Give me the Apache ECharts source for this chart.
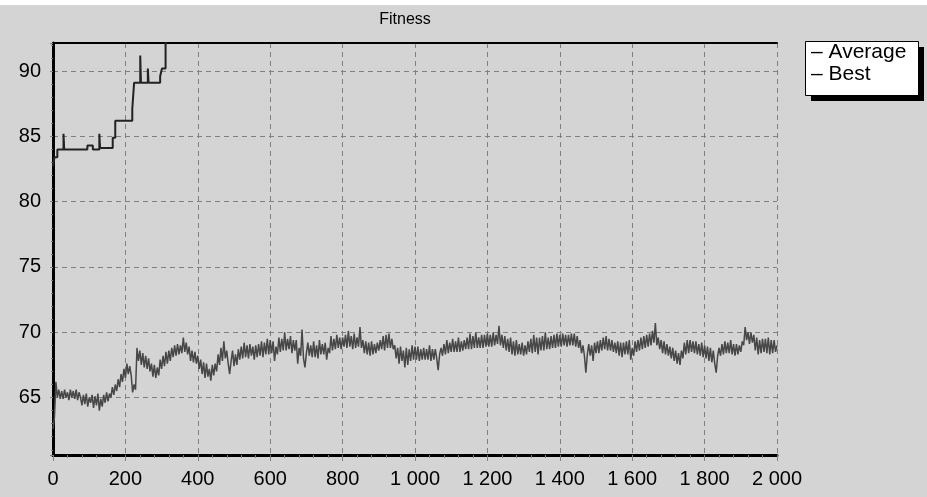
<!DOCTYPE html>
<html>
<head>
<meta charset="utf-8">
<script src="https://cdn.jsdelivr.net/npm/echarts@6/dist/echarts.min.js"></script>
<style>
html,body{margin:0;padding:0;background:#d4d4d4;}
#chart{width:927px;height:497px;}
</style>
</head>
<body>
<div id="chart"></div>
<script>
// ---- data ----
const chartTitle = 'Fitness';
const seriesNames = ['Average', 'Best'];
const xTicks = [0, 200, 400, 600, 800, 1000, 1200, 1400, 1600, 1800, 2000];
const yTicks = [65, 70, 75, 80, 85, 90];

const avgStep = 4;
const avgValues = [
  62.6, 63.5, 66.2, 65.0, 65.6, 64.9, 65.5, 64.9, 65.6, 65.0, 65.4, 64.8, 65.6, 65.0, 65.5, 64.9, 65.6, 64.8, 65.4, 65.0,
  64.4, 65.2, 64.5, 65.3, 64.3, 65.0, 64.6, 65.2, 64.2, 65.1, 64.4, 65.3, 64.0, 64.9, 64.3, 65.2, 64.6, 65.4, 64.7, 65.3,
  65.0, 65.8, 65.2, 66.0, 65.5, 66.4, 65.8, 66.8, 66.2, 67.2, 66.5, 67.6, 66.8, 67.4, 66.7, 65.4, 66.0, 65.6, 68.8, 67.8,
  68.6, 67.5, 68.4, 67.3, 68.2, 67.2, 68.0, 67.0, 67.6, 66.6, 67.5, 66.5, 67.3, 66.7, 67.9, 67.2, 68.2, 67.4, 68.5, 67.6,
  68.6, 67.8, 68.8, 68.1, 69.0, 68.2, 69.1, 68.3, 69.0, 68.4, 69.6, 68.5, 69.2, 68.3, 68.9, 67.8, 68.6, 67.7, 68.5, 67.6,
  68.2, 67.2, 67.9, 66.8, 67.7, 66.5, 67.6, 66.6, 67.2, 66.3, 67.5, 66.7, 67.6, 67.0, 68.3, 67.5, 68.8, 67.8, 69.3, 68.0,
  68.6, 67.6, 66.8, 67.8, 68.6, 67.4, 68.3, 67.5, 68.7, 67.9, 68.9, 68.0, 69.2, 68.1, 69.0, 68.0, 69.1, 68.2, 68.9, 67.9,
  69.0, 68.1, 69.1, 68.2, 69.3, 68.1, 69.2, 68.3, 69.5, 68.3, 69.4, 68.4, 69.3, 67.8, 68.9, 68.3, 69.6, 68.5, 69.5, 68.6,
  70.0, 68.6, 69.5, 68.7, 69.7, 68.4, 69.4, 68.6, 69.4, 67.6, 68.8, 68.2, 70.2, 68.0, 67.3, 68.4, 69.2, 68.2, 69.0, 68.1,
  69.3, 68.1, 69.0, 68.0, 69.4, 68.3, 69.1, 68.3, 69.2, 67.9, 68.8, 68.4, 69.7, 68.6, 69.5, 68.7, 69.8, 68.8, 69.6, 68.7,
  69.6, 68.9, 69.8, 68.8, 70.1, 68.9, 69.7, 68.7, 69.9, 68.8, 69.6, 68.9, 70.4, 68.8, 69.4, 68.4, 69.3, 68.3, 69.2, 68.2,
  69.3, 68.3, 69.1, 68.4, 69.2, 68.6, 69.4, 68.7, 69.7, 68.6, 69.8, 68.8, 69.9, 68.8, 69.5, 68.7, 69.0, 68.0, 68.8, 67.6,
  68.9, 67.8, 68.6, 67.3, 68.8, 67.5, 68.7, 67.8, 69.0, 67.9, 68.9, 67.9, 68.9, 67.8, 68.7, 67.9, 68.8, 67.9, 68.7, 67.9,
  69.0, 67.8, 68.7, 67.9, 68.7, 68.0, 67.1, 68.3, 68.8, 68.2, 69.1, 68.3, 69.4, 68.4, 69.2, 68.5, 69.5, 68.5, 69.3, 68.5,
  69.6, 68.5, 69.3, 68.6, 69.4, 68.7, 69.6, 68.7, 69.9, 68.7, 69.7, 68.8, 70.0, 68.8, 69.6, 68.8, 69.8, 68.8, 69.8, 68.9,
  69.9, 68.9, 69.8, 68.9, 70.0, 69.0, 69.8, 69.1, 70.5, 69.0, 69.8, 68.8, 69.7, 68.6, 69.5, 68.5, 69.6, 68.3, 69.3, 68.2,
  69.4, 68.3, 69.1, 68.3, 69.2, 68.2, 69.0, 68.3, 69.3, 68.5, 69.5, 68.4, 69.8, 68.5, 69.6, 68.3, 69.6, 68.6, 69.7, 68.6,
  70.0, 68.7, 69.6, 68.7, 69.7, 68.8, 69.8, 68.8, 69.9, 68.9, 69.8, 68.9, 69.9, 69.0, 69.8, 68.9, 69.8, 69.0, 69.9, 69.0,
  69.9, 68.9, 69.7, 68.8, 69.4, 68.4, 69.0, 68.2, 66.9, 68.3, 69.1, 68.2, 69.0, 67.8, 69.2, 68.4, 69.3, 68.4, 69.4, 68.6,
  69.6, 68.7, 69.7, 68.6, 69.5, 68.6, 69.4, 68.5, 69.2, 68.4, 69.3, 68.2, 69.2, 68.1, 69.2, 68.3, 69.3, 68.3, 69.4, 67.9,
  68.8, 68.2, 69.3, 68.5, 69.4, 68.6, 69.6, 68.7, 69.7, 68.8, 69.8, 68.9, 69.9, 69.0, 70.1, 69.2, 70.7, 69.0, 69.6, 68.7,
  69.4, 68.4, 69.3, 68.3, 69.1, 68.2, 68.9, 68.0, 68.8, 67.8, 68.6, 67.6, 68.4, 67.5, 68.6, 68.0, 69.2, 68.3, 69.4, 68.4,
  69.4, 68.5, 69.3, 68.4, 69.3, 68.3, 69.1, 68.2, 69.2, 68.1, 69.0, 68.0, 68.9, 67.8, 68.8, 67.7, 68.6, 67.6, 66.9, 68.2,
  68.8, 68.2, 69.1, 68.3, 69.3, 68.4, 69.2, 68.4, 69.4, 68.3, 69.1, 68.2, 69.1, 68.3, 69.0, 68.5, 69.3, 69.0, 70.4, 69.4,
  70.0, 69.1, 70.0, 69.2, 69.8, 68.6, 69.6, 68.3, 69.4, 68.4, 69.5, 68.5, 69.5, 68.4, 69.6, 68.3, 69.4, 68.4, 69.4, 68.5,
  69.0
];

// Best fitness (step changes), generation -> value
const bestGen    = [0,    4,    12,   29,   31,   95,   110,  128,  130,  165,  172,  219,  224,  241,  243,  262,  264,  296,  301,  311,  2000];
const bestValues = [82.7, 83.4, 84.0, 85.2, 84.0, 84.3, 84.0, 85.2, 84.1, 84.9, 86.2, 87.1, 89.1, 91.2, 89.1, 90.2, 89.1, 89.6, 90.2, 95.0, 95.0];

// ---- chart ----
const avgData = avgValues.map((v, i) => [i * avgStep, v]);
const bestData = bestGen.map((g, i) => [g, bestValues[i]]);

const FONT = '"Liberation Sans", Arial, sans-serif';
const yMin = 60.6, yMax = 92.15;
const xMin = xTicks[0], xMax = xTicks[xTicks.length - 1];
const gridDash = { color: '#808080', width: 1, type: [5, 4] };
const fmtThousands = v => String(v).replace(/\B(?=(\d{3})+(?!\d))/g, ' ');

const chart = echarts.init(document.getElementById('chart'), null, { renderer: 'canvas' });
chart.setOption({
  backgroundColor: '#d4d4d4',
  animation: false,
  graphic: [
    { type: 'rect', z: 0, shape: { x: 0, y: 0, width: 927, height: 5 }, style: { fill: '#fff' } },
    { type: 'rect', z: 0, shape: { x: 811, y: 47, width: 113, height: 54 }, style: { fill: '#000' } },
    { type: 'rect', z: 1, shape: { x: 805.5, y: 41.5, width: 113, height: 54 }, style: { fill: '#fff', stroke: '#000', lineWidth: 1 } }
  ],
  title: {
    text: chartTitle,
    left: 400, top: 7, textAlign: 'center',
    textStyle: { fontFamily: FONT, fontSize: 16, fontWeight: 'normal', color: '#000' }
  },
  legend: {
    data: seriesNames,
    orient: 'vertical',
    left: 805, top: 41,
    itemWidth: 0, itemHeight: 0,
    itemGap: 0,
    padding: 0,
    z: 10,
    formatter: n => '– ' + n,
    textStyle: { fontFamily: FONT, fontSize: 21, color: '#000', lineHeight: 22 },
    selectedMode: false
  },
  grid: { left: 53, right: 150, top: 43, bottom: 42, show: false },
  xAxis: [{
    type: 'value', min: xMin, max: xMax, interval: 200,
    axisLine: { show: true, lineStyle: { color: '#000', width: 3 } },
    axisTick: { show: true, length: 6, lineStyle: { color: '#808080' } },
    minorTick: { show: true, splitNumber: 5, length: 3, lineStyle: { color: '#808080' } },
    axisLabel: { fontFamily: FONT, fontSize: 20, color: '#000', margin: 14, formatter: fmtThousands },
    splitLine: { show: true, lineStyle: gridDash }
  }, {
    type: 'value', position: 'top', min: xMin, max: xMax,
    axisLine: { show: true, lineStyle: { color: '#000', width: 2 } },
    axisTick: { show: false }, axisLabel: { show: false }, splitLine: { show: false }
  }],
  yAxis: [{
    type: 'value', min: yMin, max: yMax,
    axisLine: { show: true, lineStyle: { color: '#000', width: 3 } },
    axisTick: { show: true, length: 3, lineStyle: { color: '#808080' } },
    minorTick: { show: true, splitNumber: 5, length: 2, lineStyle: { color: '#808080' } },
    axisLabel: {
      fontFamily: FONT, fontSize: 20, color: '#000', margin: 12,
      showMinLabel: false, showMaxLabel: false,
      formatter: v => (yTicks.indexOf(v) >= 0 ? String(v) : '')
    },
    splitLine: { show: true, lineStyle: gridDash }
  }, {
    type: 'value', position: 'right', min: yMin, max: yMax,
    axisLine: { show: true, lineStyle: { color: '#000', width: 2, type: [6, 3] } },
    axisTick: { show: false }, axisLabel: { show: false }, splitLine: { show: false }
  }],
  series: [{
    name: seriesNames[0], type: 'line', data: avgData,
    xAxisIndex: 0, yAxisIndex: 0,
    showSymbol: false, symbol: 'none', clip: true,
    color: '#484848',
    lineStyle: { color: '#474747', width: 1.5 }
  }, {
    name: seriesNames[1], type: 'line', data: bestData,
    xAxisIndex: 0, yAxisIndex: 0,
    step: 'end', showSymbol: false, symbol: 'none', clip: true,
    color: '#000',
    lineStyle: { color: '#222', width: 2 }
  }]
});
</script>
</body>
</html>
